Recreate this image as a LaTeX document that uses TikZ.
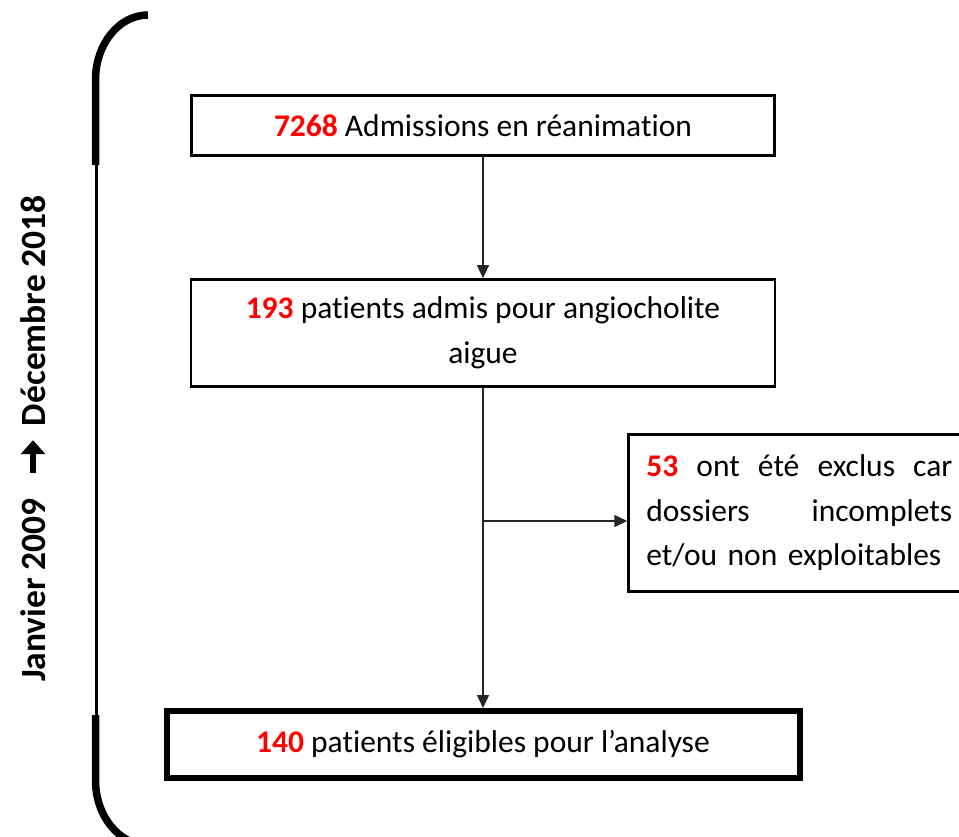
\documentclass[tikz,border=0pt]{standalone}
\usepackage{fontspec}
\setmainfont{Carlito}[Ligatures=NoCommon]
\usetikzlibrary{arrows.meta}
\definecolor{numred}{RGB}{255,0,0}
\newcommand\redn[1]{\textcolor{numred}{\textbf{#1}}}
\begin{document}
\begin{tikzpicture}[x=1pt,y=-1pt,
  txt/.style={font={\fontsize{31.5}{44.5}\selectfont}},
  flowbox/.style={draw=black, line width=2.7pt, inner sep=0pt, txt, align=center},
  endbox/.style={flowbox, line width=6pt},
  flowline/.style={draw=black!85, line width=1.4pt, -{Triangle[length=13pt,width=12pt]}},
  bracethick/.style={draw=black, line width=7.5pt},
  bracethin/.style={draw=black, line width=3.3pt},
  periodtxt/.style={rotate=90, inner sep=0pt, font={\fontsize{35.5}{40}\selectfont\bfseries}},
  periodarrow/.style={draw=black, line width=6pt, -{Triangle[length=14pt,width=24pt]}}
]
\useasboundingbox (0,0) rectangle (959,836);

% side bracket with heavy ends
\draw[bracethick] (148,15) .. controls (119,15) and (95.5,44) .. (95.5,80) -- (95.5,165);
\draw[bracethin] (96.7,163) -- (96.7,717);
\draw[bracethick] (95.5,715) -- (95.5,780) .. controls (95.5,816) and (119,845) .. (148,845);

% period label, read bottom to top
\node[periodtxt] (start) at (33,590) {Janvier 2009};
\node[periodtxt] (end) at (33,310.5) {Décembre 2018};
\draw[periodarrow, shorten <=25pt, shorten >=14pt] (start.east) -- (end.west);

% flow boxes
\node[flowbox, minimum width=583pt, minimum height=60.3pt] (b1) at (483,125.5)
  {\redn{7268} Admissions en réanimation};
\node[flowbox, minimum width=584pt, minimum height=107pt] (b2) at (483,333)
  {\redn{193} patients admis pour angiocholite\\aigue};
\node[flowbox, anchor=west, text width=306pt, inner xsep=17.7pt, minimum height=157pt, align=left] (b3) at (627.3,513)
  {\redn{53}\hfill ont\hfill été\hfill exclus\hfill car\\dossiers\hfill incomplets\\et/ou non exploitables};
\node[endbox, minimum width=633pt, minimum height=67pt] (b4) at (483,744.5)
  {\redn{140} patients éligibles pour l’analyse};

% connectors
\coordinate (split) at (483,521);
\draw[flowline] (b1.south) -- (b1.south |- b2.north);
\draw[flowline] (b2.south) -- (b2.south |- b4.north);
\draw[flowline] (split) -- (split -| b3.west);
\end{tikzpicture}
\end{document}
